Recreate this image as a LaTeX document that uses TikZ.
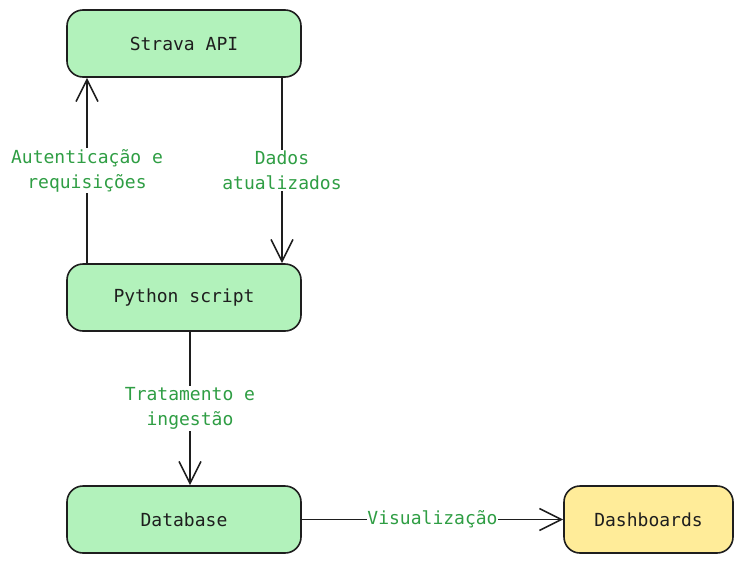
\documentclass[tikz,border=0pt]{standalone}
\usepackage{fontspec}
\usetikzlibrary{arrows.meta, positioning, calc}
\newfontfamily\handfont{DejaVu Sans Mono}
\definecolor{boxgreen}{HTML}{B2F2BB}
\definecolor{boxyellow}{HTML}{FFEC99}
\definecolor{labelgreen}{HTML}{2F9E44}
\definecolor{inkdark}{HTML}{1E1E1E}

\begin{document}
\begin{tikzpicture}[x=1pt, y=-1pt,
    stagebox/.style={rectangle, rounded corners=16pt, draw=inkdark, line width=1.6pt,
        minimum width=234pt, minimum height=67pt, text=inkdark,
        font=\handfont\fontsize{18}{25}\selectfont},
    flow/.style={draw=inkdark, line width=1.6pt, -{Straight Barb[length=22pt, width=22pt, line width=1.6pt]}},
    flowlabel/.style={fill=white, inner sep=1.5pt, align=center, text=labelgreen,
        font=\handfont\fontsize{18}{25}\selectfont}]
    \useasboundingbox (0,0) rectangle (743,563);
    \node[stagebox, fill=boxgreen] (strava) at (184,43.5) {Strava API};
    \node[stagebox, fill=boxgreen] (python) at (184,297.5) {Python script};
    \node[stagebox, fill=boxgreen] (db) at (184,519.5) {Database};
    \node[stagebox, fill=boxyellow, minimum width=169pt] (dash) at (648.5,519.5) {Dashboards};
    \draw[flow] ([xshift=-97pt]python.north) -- node[flowlabel] {Autenticação e\\requisições} ([xshift=-97pt]strava.south);
    \draw[flow] ([xshift=98pt]strava.south) -- node[flowlabel] {Dados\\atualizados} ([xshift=98pt]python.north);
    \draw[flow] ([xshift=6pt]python.south) -- node[flowlabel] {Tratamento e\\ingestão} ([xshift=6pt]db.north);
    \draw[flow] (db) -- node[flowlabel, inner sep=0pt] {Visualização} (dash);
\end{tikzpicture}
\end{document}
